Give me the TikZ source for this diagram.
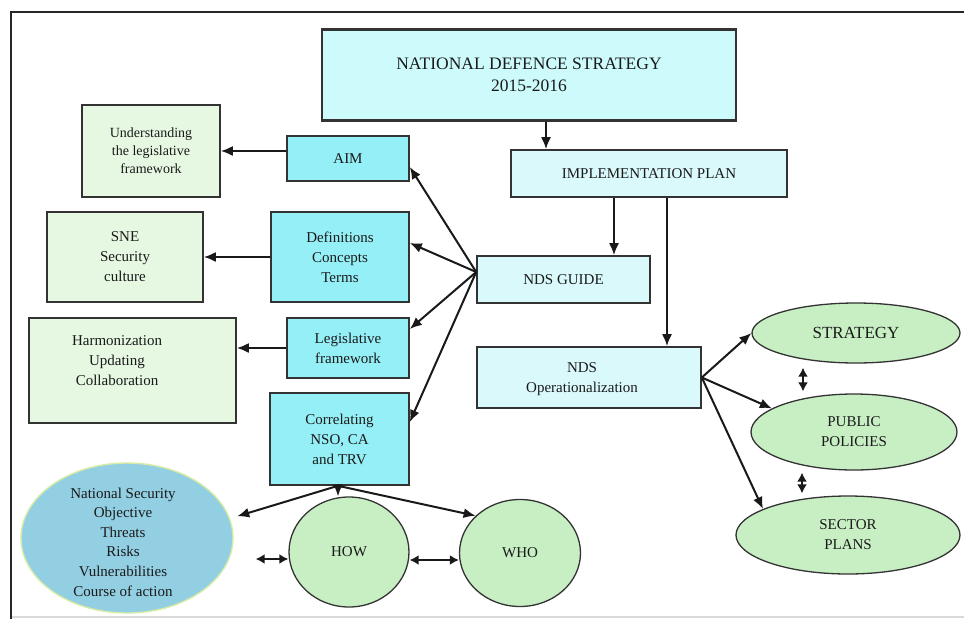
\documentclass[tikz,border=0pt]{standalone}
\usepackage{fontspec}
\setmainfont{Liberation Serif}
\usetikzlibrary{arrows.meta,shapes.geometric,calc}
\definecolor{ndsfill}{HTML}{CDFBFB}
\definecolor{lightcyan}{HTML}{D9F9FB}
\definecolor{midcyan}{HTML}{95EFF6}
\definecolor{palegreen}{HTML}{E6F8E2}
\definecolor{ellgreen}{HTML}{C8EFC4}
\definecolor{nsoblue}{HTML}{93CFE3}
\definecolor{nsoedge}{HTML}{D6EBA6}
\definecolor{edge}{HTML}{333333}
\definecolor{txt}{HTML}{1A1A1A}
\tikzset{
  basebox/.style={draw=edge, line width=1.6pt, inner sep=0pt, align=center, text=txt,
    font=\fontsize{15}{20}\selectfont},
  ltbox/.style={basebox, fill=lightcyan},
  cybox/.style={basebox, fill=midcyan},
  grbox/.style={basebox, fill=palegreen},
  grell/.style={basebox, ellipse, fill=ellgreen, line width=1.3pt},
  arr/.style={-{Latex[length=12pt,width=10pt]}, line width=2pt, draw=black!90},
  darr/.style={{Latex[length=9pt,width=10pt]}-{Latex[length=9pt,width=10pt]}, line width=2pt, draw=black!90},
}
\begin{document}
\begin{tikzpicture}[x=1pt,y=-1pt]
\useasboundingbox (0,0) rectangle (964,619);
% frame
\coordinate (fr1) at (964,12);
\coordinate (fr2) at (11,12);
\coordinate (fr3) at (11,619);
\coordinate (fb1) at (11,617);
\coordinate (fb2) at (964,617);
\draw[line width=1.2pt, draw=black!15] (fb1) -- (fb2);
\draw[line width=2.2pt, draw=black!85] (fr1) -- (fr2) -- (fr3);

% top
\node[basebox, fill=ndsfill, line width=2.8pt, minimum width=414pt, minimum height=91pt,
      font=\fontsize{17.5}{22}\selectfont] (nds) at (529,75) {NATIONAL DEFENCE STRATEGY\\2015-2016};
\node[ltbox, minimum width=276pt, minimum height=47pt] (ip) at (649,173.5) {IMPLEMENTATION PLAN};
\node[ltbox, minimum width=173pt, minimum height=47pt] (guide) at (563.5,279.5) {NDS GUIDE};
\node[ltbox, minimum width=224pt, minimum height=61pt] (op) at (589,377.5) {};
\node[align=center, text=txt, font=\fontsize{15}{20}\selectfont, inner sep=0pt] (optext) at (582,379) {NDS\\Operationalization};

% left column
\node[grbox, minimum width=138pt, minimum height=92pt, font=\fontsize{14}{18}\selectfont] (und) at (151,151) {Understanding\\the legislative\\framework};
\node[cybox, minimum width=122pt, minimum height=45pt] (aim) at (348,158.5) {AIM};
\node[grbox, minimum width=156pt, minimum height=90pt] (sne) at (125,257) {SNE\\Security\\culture};
\node[cybox, minimum width=138pt, minimum height=90pt] (def) at (340,257) {Definitions\\Concepts\\Terms};
\node[grbox, minimum width=207pt, minimum height=105pt] (harm) at (132.5,370.5) {};
\node[align=center, text=txt, font=\fontsize{15}{20}\selectfont, inner sep=0pt] (harmtext) at (117,361) {Harmonization\\Updating\\Collaboration};
\node[cybox, minimum width=122pt, minimum height=60pt] (leg) at (348,348) {Legislative\\framework};
\node[cybox, minimum width=139pt, minimum height=92pt] (cor) at (339.5,439) {Correlating\\NSO, CA\\and TRV};

% bottom ellipses
\node[basebox, ellipse, fill=nsoblue, draw=nsoedge, line width=1.4pt, minimum width=212pt, minimum height=150pt] (nso) at (127,538) {};
\node[align=center, text=txt, font=\fontsize{15}{19.6}\selectfont, inner sep=0pt] (nsotext) at (123,542) {National Security\\Objective\\Threats\\Risks\\Vulnerabilities\\Course of action};
\node[grell, minimum width=120pt, minimum height=110pt] (how) at (349,552) {HOW};
\node[grell, minimum width=121pt, minimum height=107pt] (who) at (520,553) {WHO};

% right ellipses
\node[grell, minimum width=208pt, minimum height=60pt, font=\fontsize{17}{20}\selectfont] (strat) at (856,333) {STRATEGY};
\node[grell, minimum width=206pt, minimum height=76pt] (pub) at (854,432) {PUBLIC\\POLICIES};
\node[grell, minimum width=224pt, minimum height=78pt] (sec) at (848,535) {SECTOR\\PLANS};

% vertical arrows
\draw[arr] ([xshift=17pt]nds.south) -- ([xshift=17pt]nds.south |- ip.north);
\draw[arr] ([xshift=50.5pt]guide.north |- ip.south) -- ([xshift=50.5pt]guide.north);
\draw[arr] ([xshift=78pt]op.north |- ip.south) -- ([xshift=78pt]op.north);

% left horizontal arrows
\draw[arr] ([yshift=7.5pt]aim.west) -- ([yshift=7.5pt]aim.west -| und.east);
\draw[arr] (def.west) -- (sne.east);
\draw[arr] (leg.west) -- (leg.west -| harm.east);

% guide fan
\coordinate (gf) at ([yshift=7.5pt]guide.west);
\draw[arr] (gf) -- ([yshift=-8.5pt]aim.east);
\draw[arr] (gf) -- ([yshift=14pt]def.east);
\draw[arr] (gf) -- ([yshift=19pt]leg.east);
\draw[arr] (gf) -- ([yshift=17pt]cor.east);

% operationalization fan
\draw[arr] (op.east) -- (strat.west);
\draw[arr] (op.east) -- (pub.164);
\draw[arr] (op.east) -- (sec.163);
\draw[darr] ([xshift=-53pt,yshift=-4pt]strat.south) -- ([xshift=-51pt,yshift=2pt]pub.north);
\draw[darr] ([xshift=-52pt,yshift=-2pt]pub.south) -- ([xshift=-46pt,yshift=2pt]sec.north);

% correlating fan
\coordinate (cf) at ([xshift=-1.5pt]cor.south);
\draw[arr] (cf) -- ([xshift=8pt]nso.12);
\draw[arr] (cf) -- (cf |- how.north);
\draw[arr] (cf) -- (who.140);
\draw[darr] ([xshift=22pt,yshift=-21pt]nso.east) -- ([yshift=-7pt]how.west);
\draw[darr] ([yshift=-8pt]how.east) -- ([yshift=-7pt]who.west);
\end{tikzpicture}
\end{document}
